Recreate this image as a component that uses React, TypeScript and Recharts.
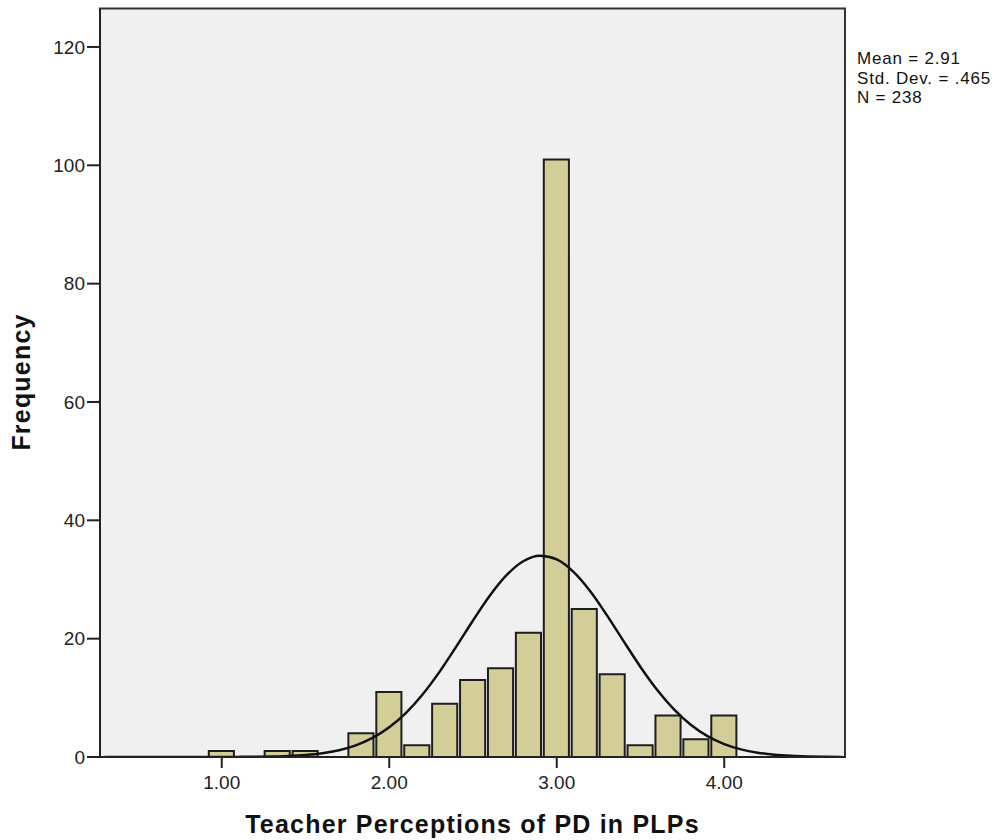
import React from 'react';
import { ComposedChart, Bar, Line, XAxis, YAxis, CartesianGrid, ReferenceArea } from 'recharts';

// histogram bins (centre of each 1/6-wide bin) and frequencies
const binMids = [1.0, 1.1667, 1.3333, 1.5, 1.6667, 1.8333, 2.0, 2.1667, 2.3333, 2.5, 2.6667, 2.8333, 3.0, 3.1667, 3.3333, 3.5, 3.6667, 3.8333, 4.0];
const counts = [1, 0, 1, 1, 0, 4, 11, 2, 9, 13, 15, 21, 101, 25, 14, 2, 7, 3, 7];

// normal curve
const curveX = [0.3, 0.5, 0.7, 0.9, 1.1, 1.2, 1.3, 1.4, 1.5, 1.6, 1.7, 1.8, 1.9, 2.0, 2.1, 2.2, 2.3, 2.4, 2.5, 2.6, 2.7, 2.8, 2.9, 3.0, 3.1, 3.2, 3.3, 3.4, 3.5, 3.6, 3.7, 3.8, 3.9, 4.0, 4.1, 4.2, 4.3, 4.4, 4.5, 4.6, 4.7];
const curveY = [0, 0, 0, 0, 0.02, 0.04, 0.08, 0.17, 0.34, 0.64, 1.15, 1.97, 3.22, 5.02, 7.46, 10.61, 14.39, 18.65, 23.07, 27.25, 30.73, 33.09, 34.02, 33.4, 31.3, 28.02, 23.94, 19.53, 15.22, 11.32, 8.04, 5.45, 3.53, 2.18, 1.29, 0.73, 0.39, 0.2, 0.1, 0.05, 0.02];

const xTicks = [1, 2, 3, 4];
const yTicks = [0, 20, 40, 60, 80, 100, 120];
const statsLines = ['Mean = 2.91', 'Std. Dev. = .465', 'N = 238'];

const xDomain: [number, number] = [0.273, 4.721];
const yMax = 126.5;

const barData = binMids.map((x, i) => ({ x, count: counts[i] }));
const curveData = curveX.map((x, i) => ({ x, y: curveY[i] }));

const font = '"Liberation Sans", Arial, sans-serif';

export default function App() {
  return (
    <div style={{ position: 'fixed', left: 0, top: 0, width: 1002, height: 840, background: '#fff', fontFamily: font }}>
      <ComposedChart
        width={1002}
        height={840}
        data={barData}
        margin={{ top: 8.5, right: 157, left: 0, bottom: 0 }}
      >
        <CartesianGrid fill="#F0F0F0" horizontal={false} vertical={false} />
        <XAxis
          dataKey="x"
          type="number"
          domain={xDomain}
          allowDataOverflow
          ticks={xTicks}
          tickFormatter={(v: number) => v.toFixed(2)}
          height={83}
          tickSize={11}
          tickMargin={8}
          stroke="#222"
          strokeWidth={2}
          tick={{ fill: '#222', fontSize: 19 }}
        />
        {/* separate hidden axis for the curve so the bar width follows the bins */}
        <XAxis xAxisId="curve" dataKey="x" type="number" domain={xDomain} allowDataOverflow hide />
        <YAxis
          type="number"
          domain={[0, yMax]}
          allowDataOverflow
          ticks={yTicks}
          width={100}
          tickSize={13}
          tickMargin={2}
          stroke="#222"
          strokeWidth={2}
          tick={{ fill: '#222', fontSize: 19 }}
        />
        <Bar dataKey="count" barSize={28} fill="#D3CE97" stroke="#1e1e1e" strokeWidth={2} isAnimationActive={false} />
        <Line xAxisId="curve" data={curveData} dataKey="y" type="monotone" dot={false} stroke="#111" strokeWidth={2.5} isAnimationActive={false} />
        <ReferenceArea x1={xDomain[0]} x2={xDomain[1]} y1={0} y2={yMax} fill="none" stroke="#333" strokeWidth={2} ifOverflow="extendDomain" />
      </ComposedChart>
      <svg width={1002} height={840} style={{ position: 'absolute', left: 0, top: 0, pointerEvents: 'none' }}>
        {statsLines.map((t, i) => (
          <text key={t} x={857} y={64 + i * 19.5} fontSize={17} letterSpacing={0.8} fill="#111">{t}</text>
        ))}
        <text x={472.5} y={833} textAnchor="middle" fontSize={25} fontWeight="bold" letterSpacing={1.2} fill="#111">
          Teacher Perceptions of PD in PLPs
        </text>
        <text transform="translate(30,382) rotate(-90)" textAnchor="middle" fontSize={25} fontWeight="bold" letterSpacing={1.2} fill="#111">
          Frequency
        </text>
      </svg>
    </div>
  );
}
